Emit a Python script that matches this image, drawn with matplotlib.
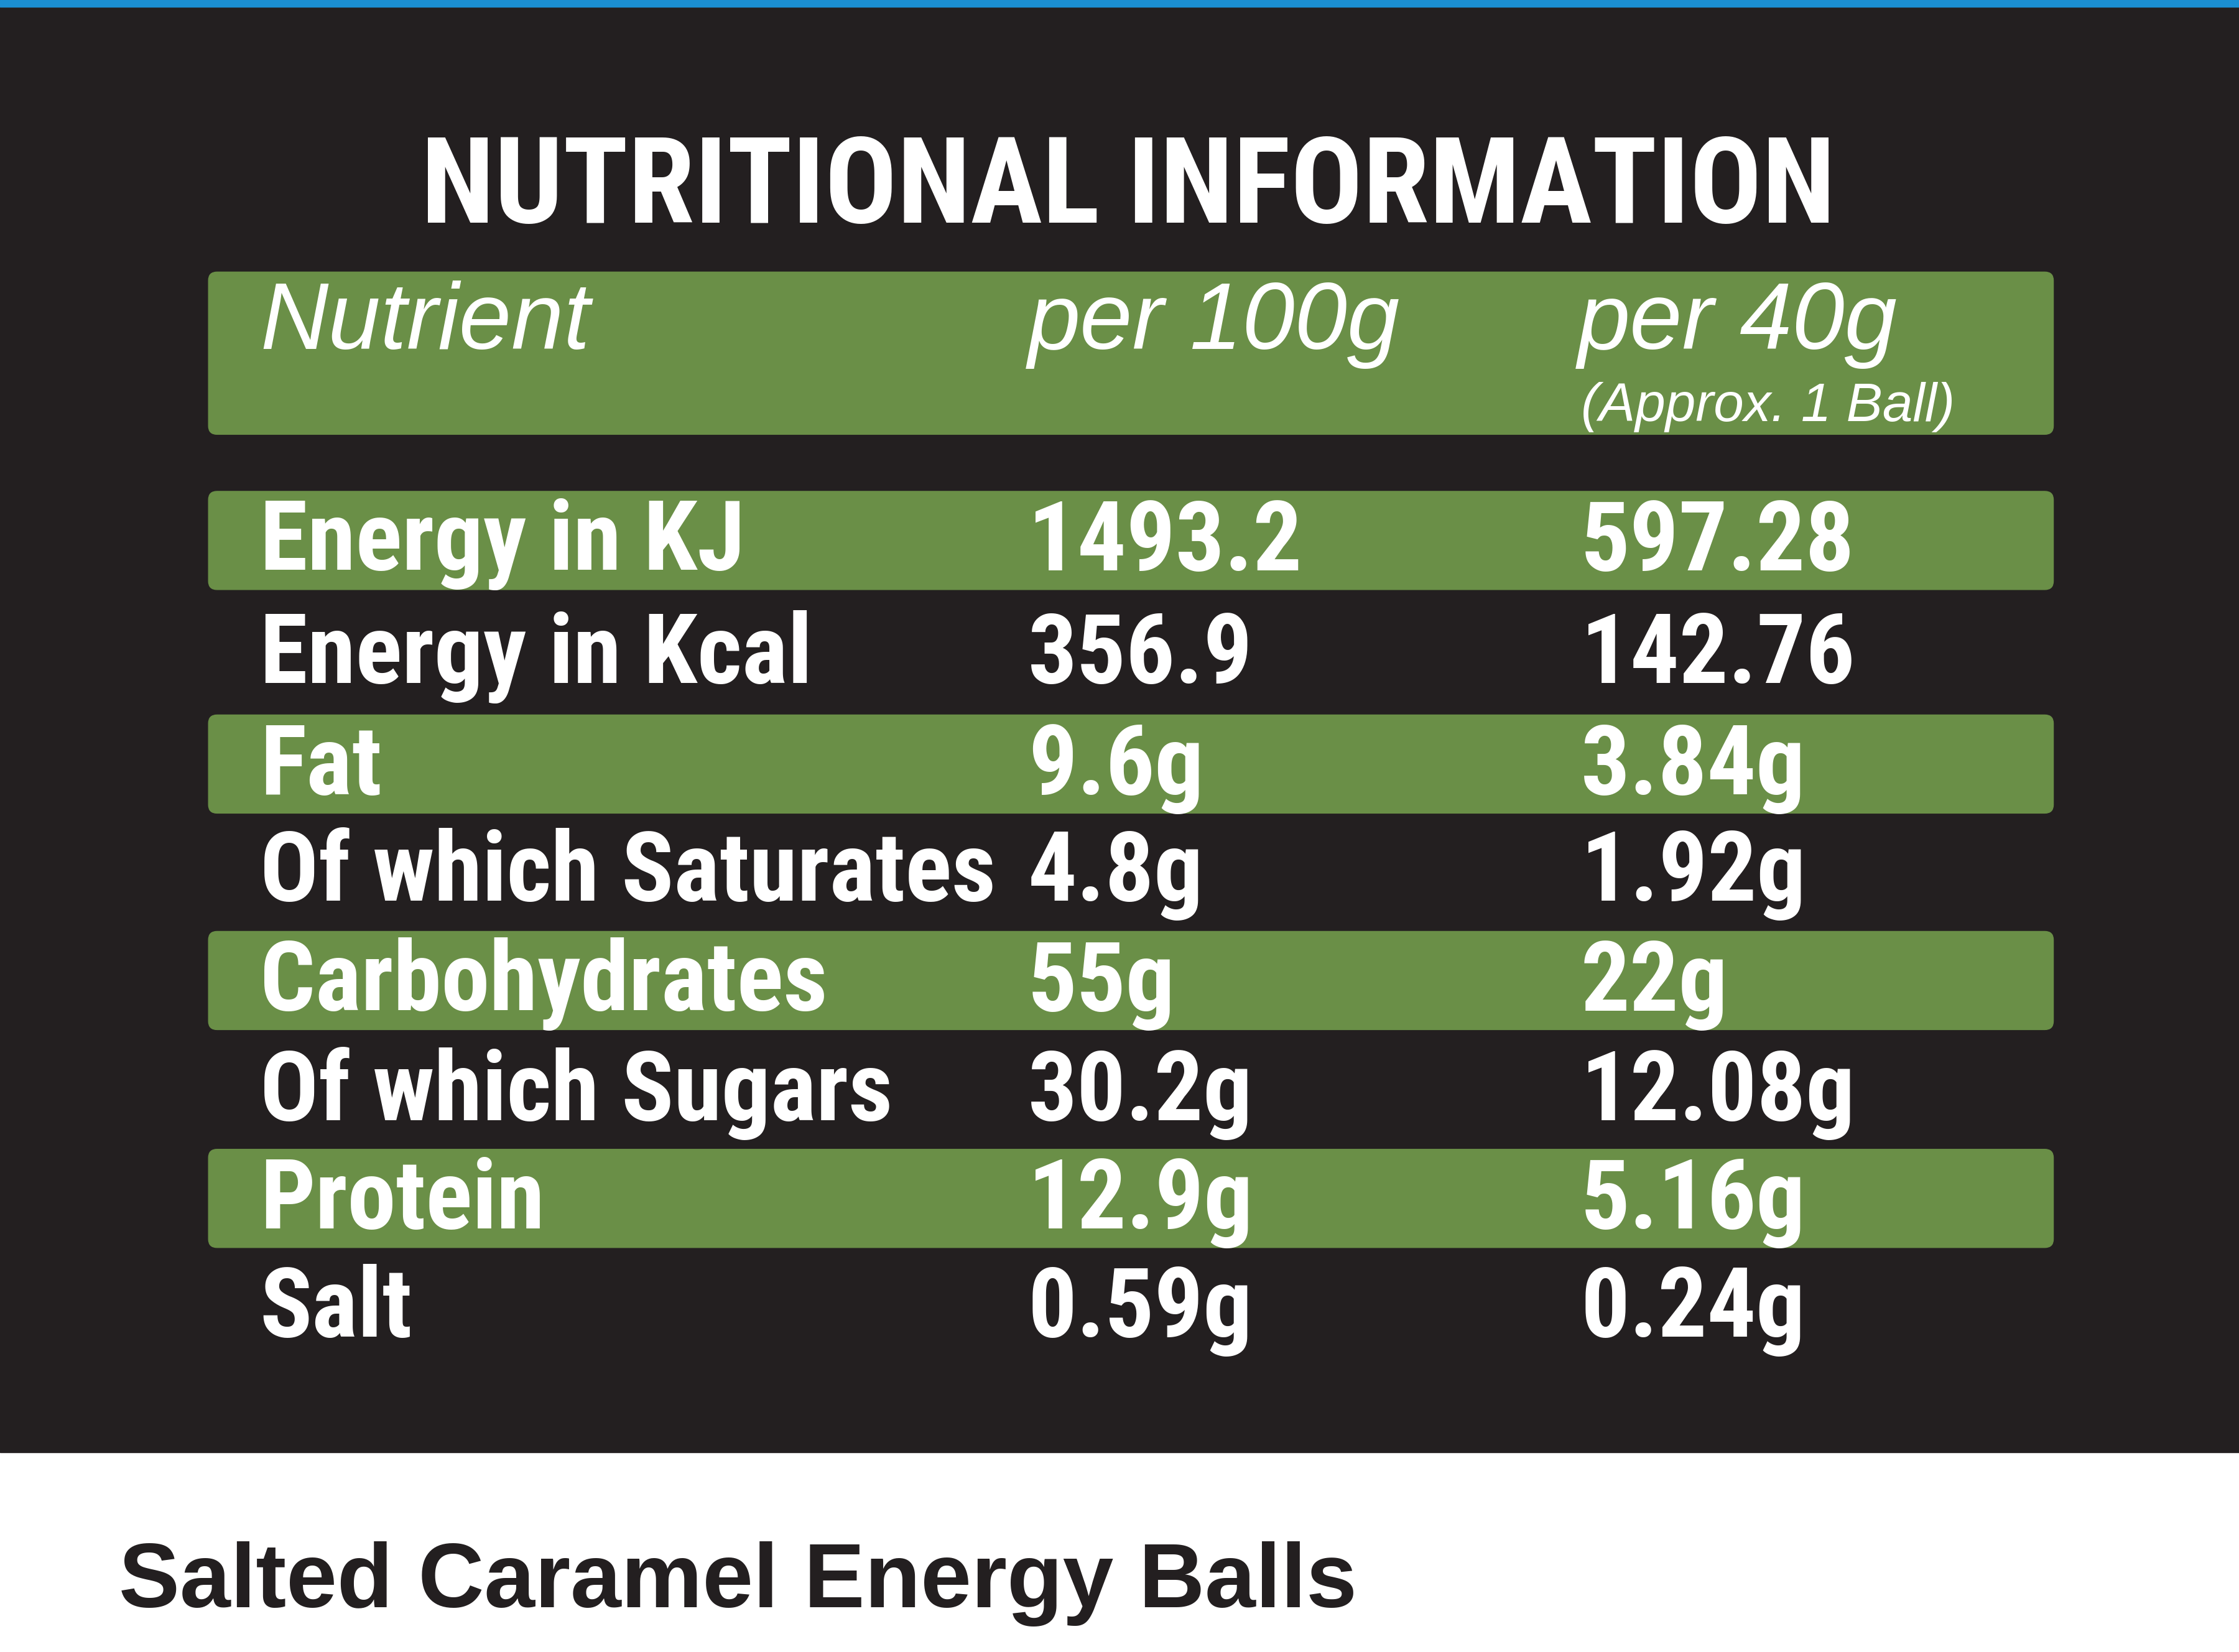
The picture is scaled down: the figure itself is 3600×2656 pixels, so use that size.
import matplotlib.pyplot as plt
from matplotlib.patches import FancyBboxPatch, Rectangle
from matplotlib import font_manager

title = "NUTRITIONAL INFORMATION"
headers = ["Nutrient", "per 100g", "per 40g"]
header_note = "(Approx. 1 Ball)"
nutrients = ["Energy in KJ", "Energy in Kcal", "Fat", "Of which Saturates",
             "Carbohydrates", "Of which Sugars", "Protein", "Salt"]
per_100g = ["1493.2", "356.9", "9.6g", "4.8g", "55g", "30.2g", "12.9g", "0.59g"]
per_40g = ["597.28", "142.76", "3.84g", "1.92g", "22g", "12.08g", "5.16g", "0.24g"]
product = "Salted Caramel Energy Balls"

names = {f.name for f in font_manager.fontManager.ttflist}
narrow = "Liberation Sans Narrow" if "Liberation Sans Narrow" in names else "Roboto Condensed"
if narrow not in names:
    narrow = "DejaVu Sans Condensed" if "DejaVu Sans Condensed" in names else "Liberation Sans"

W, H = 1568, 1160          # working units (reference pixels)
PT = 3600 / W * 72 / 100   # points per working unit

dark = "#231f20"
green = "#6a8f47"

fig = plt.figure(figsize=(36, 26.56), dpi=100)
ax = fig.add_axes([0, 0, 1, 1])
ax.set_xlim(0, W)
ax.set_ylim(H, 0)
ax.axis("off")
fig.patch.set_facecolor("white")

ax.add_patch(Rectangle((0, 0), W, 1020, color=dark, zorder=0))
ax.add_patch(Rectangle((0, 0), W, 5, color="#1b8fd2", zorder=1))

ax.text(790, 133, title, ha="center", va="center", color="white",
        fontsize=84 * PT, fontfamily=narrow, fontweight="bold")

ax.add_patch(FancyBboxPatch((146, 191), 1292, 114, boxstyle="round,pad=0,rounding_size=6",
                            color=green, zorder=1))
cols = [182, 720, 1105]
for x, h in zip(cols, headers):
    ax.text(x, 228, h, ha="left", va="center", color="white", fontsize=66 * PT,
            fontfamily="Liberation Sans", fontstyle="italic", zorder=2)
ax.text(1107, 286, header_note, ha="left", va="center", color="white", fontsize=38 * PT,
        fontfamily="Liberation Sans", fontstyle="italic", zorder=2)

row_y = [380, 459, 537, 612, 689, 766, 842, 918]
for i, (n, a, b) in enumerate(zip(nutrients, per_100g, per_40g)):
    y = row_y[i]
    if i % 2 == 0:
        ax.add_patch(FancyBboxPatch((146, y - 35), 1292, 69,
                                    boxstyle="round,pad=0,rounding_size=6",
                                    color=green, zorder=1))
    for x, t in zip([182, 720, 1107], [n, a, b]):
        ax.text(x, y + 2, t, ha="left", va="center", color="white", fontsize=68 * PT,
                fontfamily=narrow, fontweight="bold", zorder=2)

ax.text(83, 1112, product, ha="left", va="center", color=dark, fontsize=64 * PT,
        fontfamily="Liberation Sans", fontweight="bold")

fig.savefig("out.png", dpi=100, facecolor="white")
